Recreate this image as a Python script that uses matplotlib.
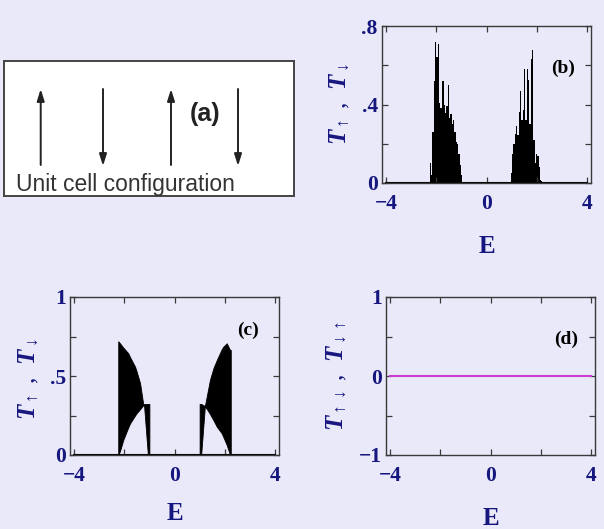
import matplotlib
matplotlib.use('Agg')
import matplotlib.pyplot as plt

# ---------------- data ----------------
# panel (b): transmission spikes, left and right bands
E_b_left = [-2.24, -2.18, -2.13, -2.08, -2.02, -1.97, -1.92, -1.86, -1.81, -1.74,
            -1.68, -1.63, -1.57, -1.52, -1.47, -1.41, -1.36, -1.31, -1.25, -1.20,
            -1.15, -1.09, -1.04, -0.99]
T_b_left = [0.10, 0.04, 0.26, 0.52, 0.72, 0.64, 0.71, 0.41, 0.38, 0.52,
            0.40, 0.355, 0.39, 0.50, 0.33, 0.35, 0.30, 0.32, 0.26, 0.21,
            0.20, 0.15, 0.09, 0.04]
E_b_right = [0.99, 1.04, 1.09, 1.15, 1.20, 1.25, 1.31, 1.36, 1.41, 1.47,
             1.52, 1.57, 1.63, 1.68, 1.73, 1.79, 1.84, 1.89, 1.94, 2.00,
             2.05, 2.10, 2.16, 2.21]
T_b_right = [0.05, 0.15, 0.20, 0.25, 0.29, 0.245, 0.36, 0.47, 0.32, 0.37,
             0.58, 0.32, 0.58, 0.525, 0.30, 0.63, 0.68, 0.22, 0.10, 0.15,
             0.14, 0.08, 0.015, 0.01]

# panel (c): envelopes of the densely oscillating transmission
E_c_left = [-2.24, -2.17, -2.04, -1.84, -1.77, -1.57, -1.51, -1.37, -1.24, -1.21, -1.06, -1.00]
Tup_c_left = [0.72, 0.707, 0.68, 0.644, 0.62, 0.559, 0.53, 0.454, 0.316, 0.323, 0.323, 0.323]
Tlo_c_left = [0.0, 0.025, 0.095, 0.175, 0.20, 0.25, 0.264, 0.29, 0.316, 0.31, 0.0, 0.0]
E_c_right = [1.00, 1.06, 1.21, 1.41, 1.55, 1.68, 1.88, 1.94, 2.08, 2.21, 2.24]
Tup_c_right = [0.323, 0.323, 0.31, 0.475, 0.55, 0.60, 0.67, 0.685, 0.707, 0.665, 0.665]
Tlo_c_right = [0.0, 0.0, 0.31, 0.26, 0.22, 0.18, 0.137, 0.115, 0.063, 0.0, 0.0]

# zero baseline and panel (d) spin-flip transmission
E_range = [-4, 4]
T_zero = [0, 0]
T_flip = [0, 0]

# panel (a): unit cell spin configuration
spins = ['up', 'down', 'up', 'down']

# ---------------- style ----------------
BG = '#e9e9f9'
NAVY = '#16167f'
SPINE = '#3a3a3a'
W, H = 604, 529

plt.rcParams['font.family'] = ['Liberation Serif', 'DejaVu Serif']
plt.rcParams['font.weight'] = 'bold'
plt.rcParams['mathtext.fontset'] = 'custom'
plt.rcParams['mathtext.rm'] = 'Liberation Serif:bold'
plt.rcParams['mathtext.it'] = 'Liberation Serif:italic:bold'
plt.rcParams['mathtext.bf'] = 'Liberation Serif:bold'
plt.rcParams['axes.unicode_minus'] = True

fig = plt.figure(figsize=(W / 100, H / 100), dpi=100, facecolor=BG)


def rect(l, t, r, b):
    return [l / W, 1 - b / H, (r - l) / W, (b - t) / H]


def style(ax, ylim, ymaj, ylabels, ymin, ylabel, lab_xy, xlab_y, panel, panel_xy):
    ax.set_facecolor(BG)
    for s in ax.spines.values():
        s.set_color(SPINE)
        s.set_linewidth(1.0)
    ax.set_xlim(-4.16, 4.16)
    ax.set_ylim(*ylim)
    ax.set_xticks([-4, 0, 4])
    ax.set_xticklabels(['\u22124', '0', '4'])
    ax.set_xticks([-2, 2], minor=True)
    ax.set_yticks(ymaj)
    ax.set_yticklabels(ylabels)
    ax.set_yticks(ymin, minor=True)
    ax.tick_params(which='both', direction='in', top=True, right=True,
                   length=4, width=0.9, color=SPINE, labelcolor=NAVY, labelsize=15.5)
    ax.tick_params(axis='x', which='major', pad=8)
    ax.tick_params(axis='y', which='major', pad=3)
    ax.set_xlabel('E', fontsize=18, color=NAVY, fontweight='bold')
    ax.xaxis.set_label_coords(0.5, xlab_y)
    ax.set_ylabel(ylabel, fontsize=18, color=NAVY, va='center')
    ax.yaxis.set_label_coords(*lab_xy)
    ax.text(panel_xy[0], panel_xy[1], panel, transform=ax.transAxes,
            fontsize=14, color='black', fontweight='bold', ha='center', va='center')


# ---------------- panel (a) ----------------
axa = fig.add_axes(rect(4, 61, 294, 196))
axa.set_xlim(4, 294)
axa.set_ylim(196, 61)
axa.set_facecolor('white')
axa.set_xticks([])
axa.set_yticks([])
for s in axa.spines.values():
    s.set_color('#444444')
    s.set_linewidth(1.4)
xs = [40.7, 103, 171, 238]
for x, sp in zip(xs, spins):
    y0, y1 = (165, 89) if sp == 'up' else (89, 166)
    axa.annotate('', xy=(x, y1), xytext=(x, y0),
                 arrowprops=dict(arrowstyle='-|>,head_length=0.7,head_width=0.22',
                                 lw=1.4, color='#222222', mutation_scale=10,
                                 shrinkA=0, shrinkB=0))
axa.text(205, 114, '(a)', family='Liberation Sans', fontweight='bold', fontsize=18,
         color='#222222', ha='center', va='center')
axa.text(16, 191, 'Unit cell configuration', family='Liberation Sans', fontweight='normal',
         fontsize=16.5, color='#333333', ha='left', va='baseline')

# ---------------- panel (b) ----------------
axb = fig.add_axes(rect(382, 26, 591, 183))
axb.fill_between(E_b_left, T_b_left, 0, step='mid', color='black', lw=0)
axb.fill_between(E_b_right, T_b_right, 0, step='mid', color='black', lw=0)
axb.plot(E_range, T_zero, color='black', lw=1.5)
style(axb, (0, 0.8), [0, 0.4, 0.8], ['0', '.4', '.8'], [0.2, 0.6],
      r'$T_{\uparrow}$ ,  $T_{\downarrow}$', (-0.205, 0.5), -0.33, '(b)', (0.865, 0.73))

# ---------------- panel (c) ----------------
axc = fig.add_axes(rect(70, 297, 279, 455))
axc.fill_between(E_c_left, Tup_c_left, Tlo_c_left, color='black', lw=0.6, edgecolor='black')
axc.fill_between(E_c_right, Tup_c_right, Tlo_c_right, color='black', lw=0.6, edgecolor='black')
axc.plot(E_range, T_zero, color='black', lw=1.5)
style(axc, (0, 1), [0, 0.5, 1], ['0', '.5', '1'], [0.25, 0.75],
      r'$T_{\uparrow}$ ,  $T_{\downarrow}$', (-0.20, 0.48), -0.30, '(c)', (0.85, 0.79))

# ---------------- panel (d) ----------------
axd = fig.add_axes(rect(386, 297, 595, 455))
axd.plot(E_range, T_flip, color='#cc3fcc', lw=1.5)
style(axd, (-1, 1), [-1, 0, 1], ['\u22121', '0', '1'], [-0.5, 0.5],
      r'$T_{\uparrow\downarrow}$ ,  $T_{\downarrow\uparrow}$', (-0.24, 0.5), -0.33, '(d)', (0.86, 0.73))

fig.savefig('out.png', dpi=100, facecolor=BG)
